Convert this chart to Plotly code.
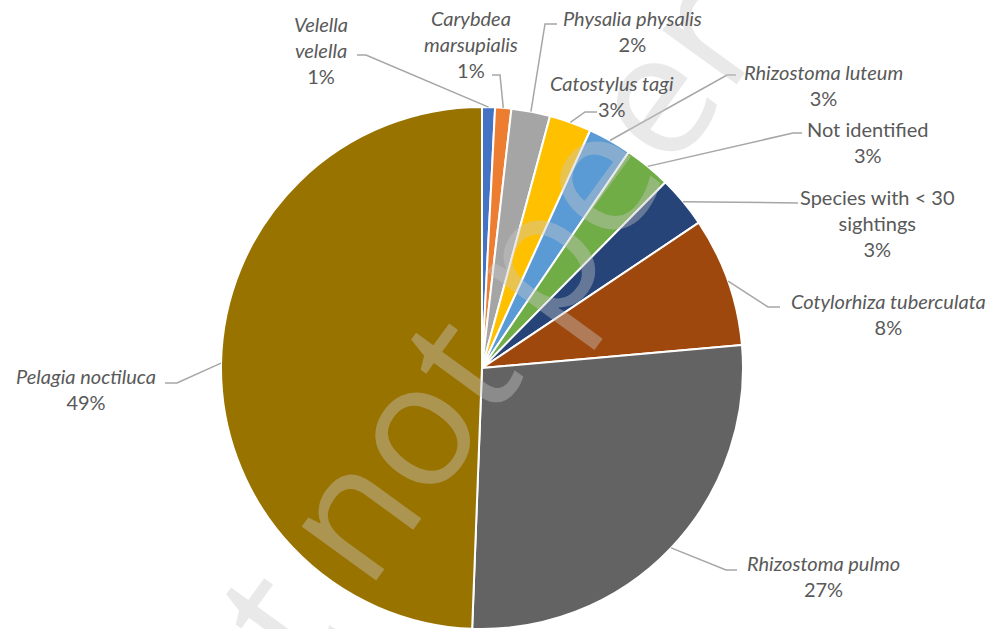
import math
import plotly.graph_objects as go

# Share of jellyfish sightings by species (%)
species = [
    "Velella velella",
    "Carybdea marsupialis",
    "Physalia physalis",
    "Catostylus tagi",
    "Rhizostoma luteum",
    "Not identified",
    "Species with < 30 sightings",
    "Cotylorhiza tuberculata",
    "Rhizostoma pulmo",
    "Pelagia noctiluca",
]
share = [0.8, 1.0, 2.4, 2.6, 2.7, 2.9, 3.2, 8.0, 27.0, 49.4]
slice_colors = [
    "#4472C4", "#ED7D31", "#A5A5A5", "#FFC000", "#5B9BD5",
    "#70AD47", "#264478", "#9E480E", "#636363", "#997300",
]
# label text as broken over lines, and whether the name is a taxon (italic)
label_names = [
    "Velella<br>velella",
    "Carybdea<br>marsupialis",
    "Physalia physalis",
    "Catostylus tagi",
    "Rhizostoma luteum",
    "Not identified",
    "Species with &lt; 30<br>sightings",
    "Cotylorhiza tuberculata",
    "Rhizostoma pulmo",
    "Pelagia noctiluca",
]
is_taxon = [True, True, True, True, True, False, False, True, True, True]

# ---- layout (pixel space) ----
W, H = 996, 629
CX, CY, R = 482, 368, 261

# label block centres and the label-side points of each leader line
label_pos = [
    (321, 50), (471, 44), (632, 31), (612, 96), (823, 85),
    (868, 142), (877, 223), (888, 314), (823, 576), (86, 389),
]
leader_start = [
    [(357, 55), (366, 55)],
    [(492, 75), (500, 75)],
    [(557, 24), (545, 24)],
    [(597, 112), (585, 112)],
    [(736, 75), (727, 75)],
    [(802, 133), (793, 133)],
    [(798, 203)],
    [(780, 307), (768, 307)],
    [(737, 570), (726, 570)],
    [(165, 383), (177, 383)],
]


def fx(x):
    return x / W


def fy(y):
    return 1 - y / H


fig = go.Figure(
    go.Pie(
        labels=species,
        values=share,
        sort=False,
        direction="clockwise",
        rotation=0,
        marker=dict(colors=slice_colors, line=dict(color="white", width=2)),
        textinfo="none",
        hoverinfo="label+percent",
        showlegend=False,
        domain=dict(x=[fx(CX - R), fx(CX + R)], y=[fy(CY + R), fy(CY - R)]),
    )
)

total = sum(share)
annotations = []
shapes = []
cum = 0.0
font = dict(family="Lato, Calibri, sans-serif", size=20, color="#595959")

# watermark
annotations.append(dict(
    text="Preprint not peer reviewed",
    x=fx(535), y=fy(248), xref="paper", yref="paper",
    xanchor="center", yanchor="middle", showarrow=False,
    textangle=-54,
    font=dict(family="Open Sans, sans-serif", size=172,
              color="rgba(200,200,200,0.4)"),
))

for i, v in enumerate(share):
    mid = 2 * math.pi * (cum + v / 2) / total
    cum += v
    ex = CX + R * math.sin(mid)
    ey = CY - R * math.cos(mid)
    pts = leader_start[i] + [(ex, ey)]
    path = "M " + " L ".join(f"{fx(x):.5f},{fy(y):.5f}" for x, y in pts)
    shapes.append(dict(type="path", path=path, xref="paper", yref="paper",
                       line=dict(color="#A6A6A6", width=1.5), layer="above"))

    name = f"<i>{label_names[i]}</i>" if is_taxon[i] else label_names[i]
    pct = f"{int(v + 0.5)}%"
    lx, ly = label_pos[i]
    annotations.append(dict(
        text=f"{name}<br>{pct}", x=fx(lx), y=fy(ly), xref="paper", yref="paper",
        xanchor="center", yanchor="middle", align="center", showarrow=False,
        font=font,
    ))

fig.update_layout(
    width=W, height=H,
    margin=dict(l=0, r=0, t=0, b=0),
    paper_bgcolor="white", plot_bgcolor="white",
    annotations=annotations, shapes=shapes,
)

fig.write_html("out.html")
